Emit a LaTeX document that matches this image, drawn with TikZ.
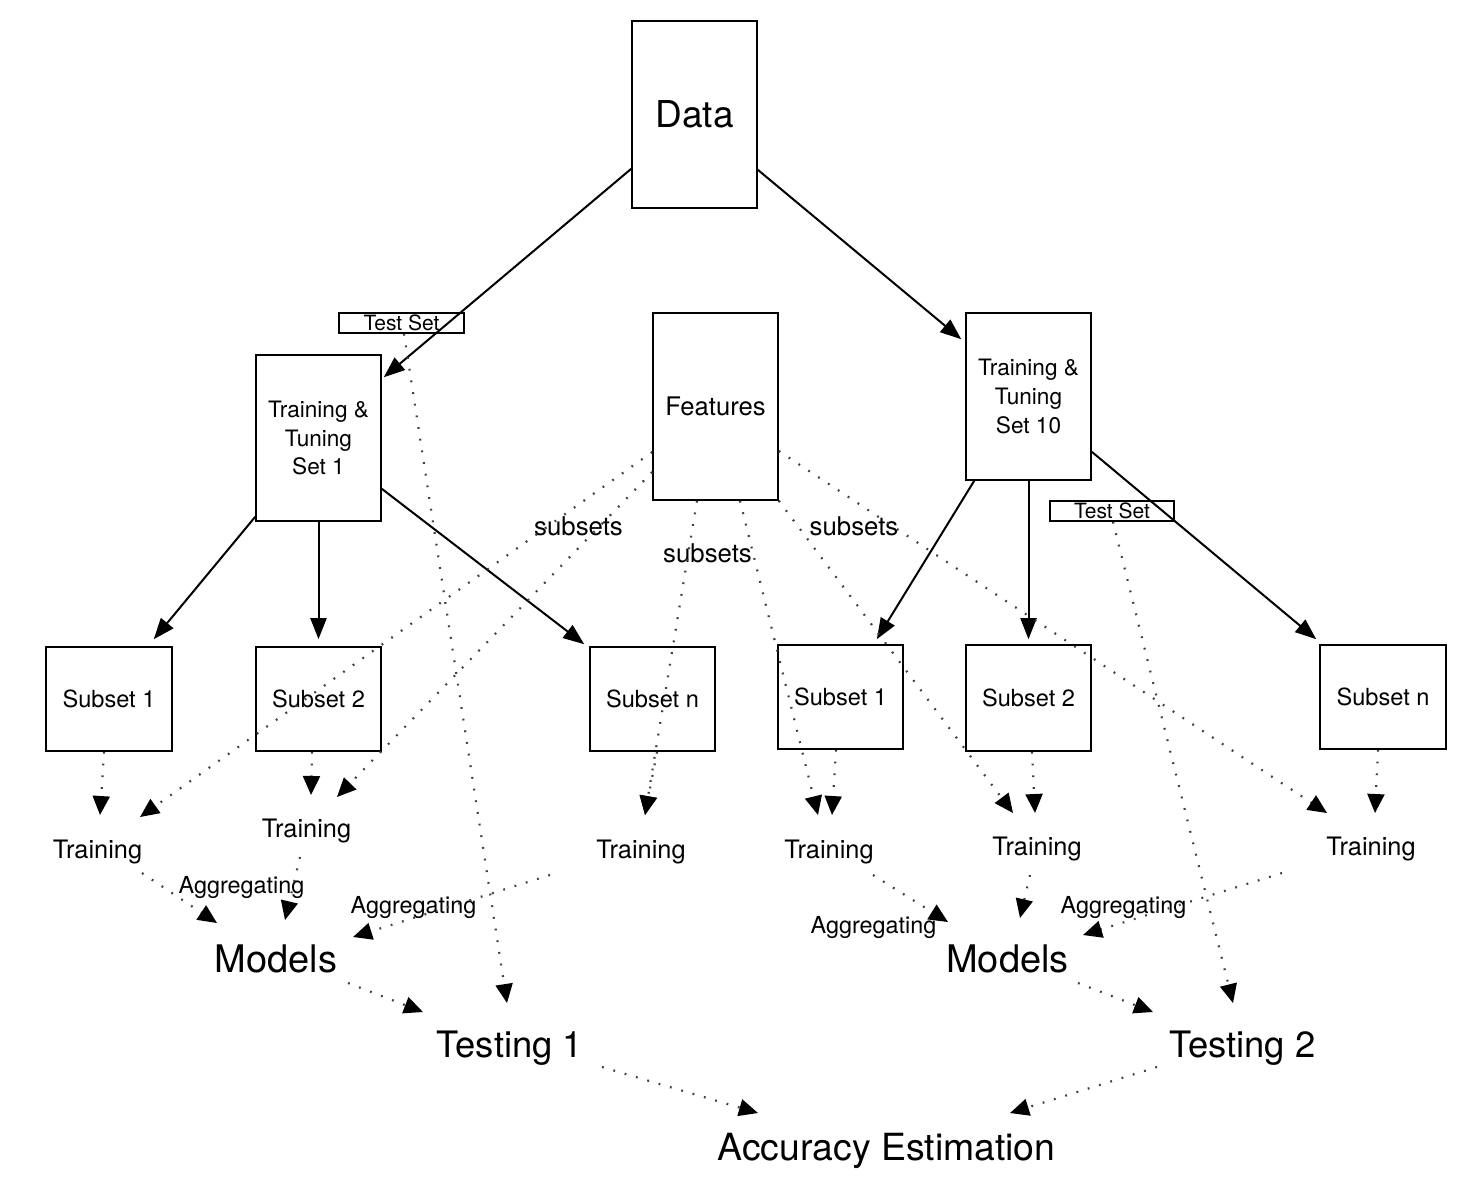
\documentclass[tikz,border=0pt]{standalone}
\usepackage{fontspec}
\setmainfont{TeX Gyre Heros}
\usetikzlibrary{arrows.meta,calc}
\begin{document}
\begin{tikzpicture}[x=0.5pt,y=-0.5pt,
  box/.style={draw, line width=0.8pt, inner sep=0pt, align=center, minimum width=62.5pt},
  bigbox/.style={box, minimum height=93.5pt},
  ttbox/.style={box, minimum height=83pt, font=\fontsize{11.3}{14.3}\selectfont},
  subbox/.style={box, minimum height=52pt, font=\fontsize{11.8}{13}\selectfont},
  testbox/.style={box, minimum height=10pt, font=\fontsize{10.5}{11}\selectfont},
  lbl/.style={inner sep=0pt, anchor=base},
  trlbl/.style={lbl, font=\fontsize{12.7}{14}\selectfont},
  agglbl/.style={lbl, font=\fontsize{11.7}{13}\selectfont},
  sublbl/.style={lbl, font=\fontsize{12.9}{14}\selectfont},
  biglbl/.style={lbl, font=\fontsize{18.2}{20}\selectfont},
  sarr/.style={line width=1pt, -{Triangle[length=10.5pt,width=8pt]}},
  darr/.style={draw=black!75, line width=1.1pt, dash pattern=on 0.9pt off 5pt,
               -{Triangle[length=9.5pt,width=8.5pt,color=black]}}]
\useasboundingbox (0,0) rectangle (1460,1180);

% boxes
\node[bigbox, font=\fontsize{18.5}{22}\selectfont] (data) at (694.5,114.5) {Data};
\node[testbox] (testL) at (401.5,323) {Test Set};
\node[ttbox] (tt1) at (318.5,438) {Training \&\\Tuning\\Set 1};
\node[bigbox, font=\fontsize{12.8}{15}\selectfont] (feat) at (715.5,406.5) {Features};
\node[ttbox, minimum height=83.5pt] (tt10) at (1028.5,396.5) {Training \&\\Tuning\\Set 10};
\node[testbox, minimum width=62pt] (testR) at (1112,511) {Test Set};
\node[subbox, minimum width=63pt] (sL1) at (109,699) {Subset 1};
\node[subbox] (sL2) at (318.5,699) {Subset 2};
\node[subbox] (sLn) at (652.5,699) {Subset n};
\node[subbox] (sR1) at (840.5,697) {Subset 1};
\node[subbox, minimum height=53pt] (sR2) at (1028.5,698) {Subset 2};
\node[subbox, minimum width=63pt] (sRn) at (1383,697) {Subset n};

% text labels
\node[trlbl] (trL1) at (97.5,858) {Training};
\node[trlbl] (trL2) at (306.5,837) {Training};
\node[trlbl] (trLn) at (641,858) {Training};
\node[trlbl] (trR1) at (829,858) {Training};
\node[trlbl] (trR2) at (1037,855) {Training};
\node[trlbl] (trRn) at (1371,855) {Training};
\node[agglbl] (agL1) at (241.5,893) {Aggregating};
\node[agglbl] (agL2) at (413.5,913) {Aggregating};
\node[agglbl] (agR1) at (873.5,933) {Aggregating};
\node[agglbl] (agR2) at (1123.5,913) {Aggregating};
\node[sublbl] (sub1) at (578.5,535) {subsets};
\node[sublbl] (sub2) at (707.5,562) {subsets};
\node[sublbl] (sub3) at (854,535) {subsets};
\node[lbl, font=\fontsize{19}{21}\selectfont] (modL) at (276,972) {Models};
\node[lbl, font=\fontsize{19}{21}\selectfont] (modR) at (1007.5,972) {Models};
\node[biglbl] (test1) at (510,1057) {Testing 1};
\node[biglbl] (test2) at (1242.5,1057) {Testing 2};
\node[lbl, font=\fontsize{18.7}{21}\selectfont] (acc) at (886.5,1160) {Accuracy Estimation};

% solid connectors
\draw[sarr] ($(data.south west)+(0,-40)$) -- ($(tt1.north east)+(2,23)$);
\draw[sarr] ($(data.south east)+(0,-39)$) -- ($(tt10.north west)+(-4,27)$);
\draw[sarr] ($(tt1.south west)+(0,-5)$) -- ($(sL1.north east)+(-19,-7)$);
\draw[sarr] (tt1.south) -- ($(sL2.north)+(0,-7)$);
\draw[sarr] ($(tt1.south east)+(0,-33)$) -- ($(sLn.north west)+(-5,-2)$);
\draw[sarr] ($(tt10.south west)+(9,0)$) -- ($(sR1.north east)+(-27,-5)$);
\draw[sarr] (tt10.south) -- ($(sR2.north)+(0,-5)$);
\draw[sarr] ($(tt10.south east)+(0,-29)$) -- ($(sRn.north west)+(-3,-5)$);

% dotted: test sets
\draw[darr] ($(testL.south)+(2.5,0)$) -- ($(test1.base)+(-3,-54)$);
\draw[darr] ($(testR.south)+(1,0)$) -- ($(test2.base)+(-9.5,-54)$);

% dotted: features
\draw[darr] ($(feat.west)+(0,45.5)$) -- ($(trL1.base)+(42.5,-41)$);
\draw[darr] ($(feat.west)+(0,65.5)$) -- ($(trL2.base)+(30.5,-40)$);
\draw[darr] ($(feat.south)+(-18.5,0)$) -- ($(trLn.base)+(4,-43)$);
\draw[darr] ($(feat.south)+(24.5,0)$) -- ($(trR1.base)+(-11,-43)$);
\draw[darr] (feat.south east) -- ($(trR2.base)+(-24,-42)$);
\draw[darr] ($(feat.east)+(0,44.5)$) -- ($(trRn.base)+(-44,-42)$);

% dotted: subsets to training
\draw[darr] ($(sL1.south)+(-5,0)$) -- ($(trL1.base)+(2.5,-43)$);
\draw[darr] ($(sL2.south)+(-6.5,0)$) -- ($(trL2.base)+(4.5,-42)$);
\draw[darr] ($(sLn.south)+(4.5,0)$) -- ($(trLn.base)+(4,-43)$);
\draw[darr] ($(sR1.south)+(-4.5,0)$) -- ($(trR1.base)+(3,-43)$);
\draw[darr] ($(sR2.south)+(3.5,0)$) -- ($(trR2.base)+(-2,-42)$);
\draw[darr] ($(sRn.south)+(-5,0)$) -- ($(trRn.base)+(4,-42)$);

% dotted: training to models
\draw[darr] ($(trL1.base)+(44.5,15)$) -- ($(modL.base)+(-59,-49)$);
\draw[darr] ($(trL2.base)+(-6.5,20)$) -- ($(modL.base)+(9,-52)$);
\draw[darr] ($(trLn.base)+(-91,17)$) -- ($(modL.base)+(77,-35)$);
\draw[darr] ($(trR1.base)+(44,17)$) -- ($(modR.base)+(-59.5,-50)$);
\draw[darr] ($(trR2.base)+(-7,20)$) -- ($(modR.base)+(12.5,-54)$);
\draw[darr] ($(trRn.base)+(-89,18)$) -- ($(modR.base)+(75.5,-37)$);

% dotted: models to testing, testing to accuracy
\draw[darr] ($(modL.base)+(72,11)$) -- ($(test1.base)+(-87,-45)$);
\draw[darr] ($(modR.base)+(70.5,11)$) -- ($(test2.base)+(-89.5,-45)$);
\draw[darr] ($(test1.base)+(92,10)$) -- ($(acc.base)+(-128.5,-47)$);
\draw[darr] ($(test2.base)+(-85.5,10)$) -- ($(acc.base)+(123.5,-47)$);
\end{tikzpicture}
\end{document}
